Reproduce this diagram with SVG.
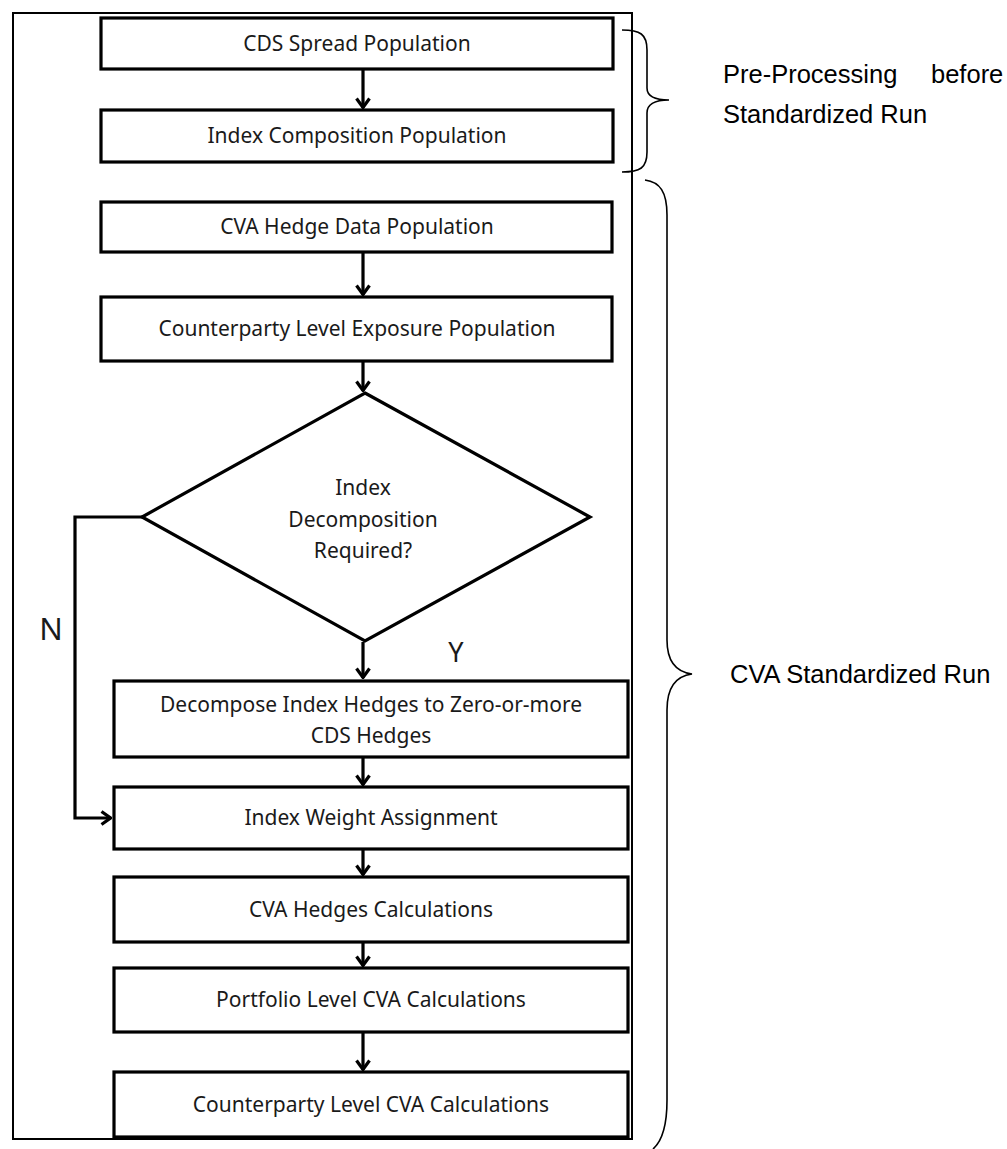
<svg xmlns="http://www.w3.org/2000/svg" width="1007" height="1149" viewBox="0 0 1007 1149">
<style>
  .box { fill: #fff; stroke: #000; stroke-width: 3.2; }
  .lbl { font-family: "Noto Sans", "Open Sans", sans-serif; font-size: 21px; fill: #1a1a1a; text-anchor: middle; }
  .side { font-family: "Liberation Sans", Arial, sans-serif; font-size: 25.5px; fill: #000; }
  .conn { fill: none; stroke: #000; stroke-width: 3.2; }
  .brace { fill: none; stroke: #000; stroke-width: 1.6; }
</style>
<defs>
  <marker id="arr" viewBox="0 0 12 16" refX="11" refY="8" markerWidth="12" markerHeight="16" markerUnits="userSpaceOnUse" orient="auto">
    <path d="M1.5,1.5 L10.5,8 L1.5,14.5" fill="none" stroke="#000" stroke-width="3.2"/>
  </marker>
</defs>
<rect width="1007" height="1149" fill="#fff"/>
<rect id="frame" x="13" y="13" width="619" height="1126" fill="none" stroke="#000" stroke-width="2"/>

<g id="connectors">
  <line class="conn" x1="363" y1="69" x2="363" y2="108" marker-end="url(#arr)"/>
  <line class="conn" x1="363" y1="252" x2="363" y2="295" marker-end="url(#arr)"/>
  <line class="conn" x1="363" y1="361" x2="363" y2="391" marker-end="url(#arr)"/>
  <line class="conn" x1="363" y1="642" x2="363" y2="678" marker-end="url(#arr)"/>
  <line class="conn" x1="363" y1="757" x2="363" y2="785" marker-end="url(#arr)"/>
  <line class="conn" x1="363" y1="849" x2="363" y2="875" marker-end="url(#arr)"/>
  <line class="conn" x1="363" y1="942" x2="363" y2="966" marker-end="url(#arr)"/>
  <line class="conn" x1="363" y1="1032" x2="363" y2="1070" marker-end="url(#arr)"/>
  <polyline class="conn" points="142,517 75,517 75,818 111,818" marker-end="url(#arr)"/>
</g>

<g id="n1"><rect class="box" x="101" y="18" width="512" height="51"/><text class="lbl" x="357" y="51">CDS Spread Population</text></g>
<g id="n2"><rect class="box" x="101" y="110" width="512" height="52"/><text class="lbl" x="357" y="143">Index Composition Population</text></g>
<g id="n3"><rect class="box" x="101" y="202" width="511" height="50"/><text class="lbl" x="357" y="234">CVA Hedge Data Population</text></g>
<g id="n4"><rect class="box" x="101" y="297" width="511" height="64"/><text class="lbl" x="357" y="336">Counterparty Level Exposure Population</text></g>
<g id="n5">
  <polygon class="box" points="365,393 590,517 365,641 142,517"/>
  <text class="lbl" x="363" y="495">Index</text>
  <text class="lbl" x="363" y="527">Decomposition</text>
  <text class="lbl" x="363" y="558">Required?</text>
</g>
<g id="n6"><rect class="box" x="114" y="681" width="514" height="76"/>
  <text class="lbl" x="371" y="712">Decompose Index Hedges to Zero-or-more</text>
  <text class="lbl" x="371" y="743">CDS Hedges</text></g>
<g id="n7"><rect class="box" x="114" y="787" width="514" height="62"/><text class="lbl" x="371" y="825">Index Weight Assignment</text></g>
<g id="n8"><rect class="box" x="114" y="877" width="514" height="65"/><text class="lbl" x="371" y="917">CVA Hedges Calculations</text></g>
<g id="n9"><rect class="box" x="114" y="968" width="514" height="64"/><text class="lbl" x="371" y="1007">Portfolio Level CVA Calculations</text></g>
<g id="n10"><rect class="box" x="114" y="1072" width="514" height="65"/><text class="lbl" x="371" y="1112">Counterparty Level CVA Calculations</text></g>

<g id="labels">
  <text class="lbl" x="51" y="640" style="font-size:31px">N</text>
  <text class="lbl" x="456" y="662" style="font-size:27px">Y</text>
</g>

<g id="braces">
  <path class="brace" d="M622,30 C640,30 647,34 647,50 L647,88 C647,97 655,100 669,100 C655,100 647,104 647,113 L647,152 C647,168 640,172 622,172"/>
  <path class="brace" d="M645,180 C660,182 667,192 667,215 L667,640 C667,662 676,672 692,674 C676,676 667,688 667,710 L667,1100 C667,1130 660,1143 653,1149"/>
  <text class="side" x="723" y="83">Pre-Processing</text>
  <text class="side" x="931" y="83">before</text>
  <text class="side" x="723" y="123">Standardized Run</text>
  <text class="side" x="730" y="683">CVA Standardized Run</text>
</g>
</svg>
